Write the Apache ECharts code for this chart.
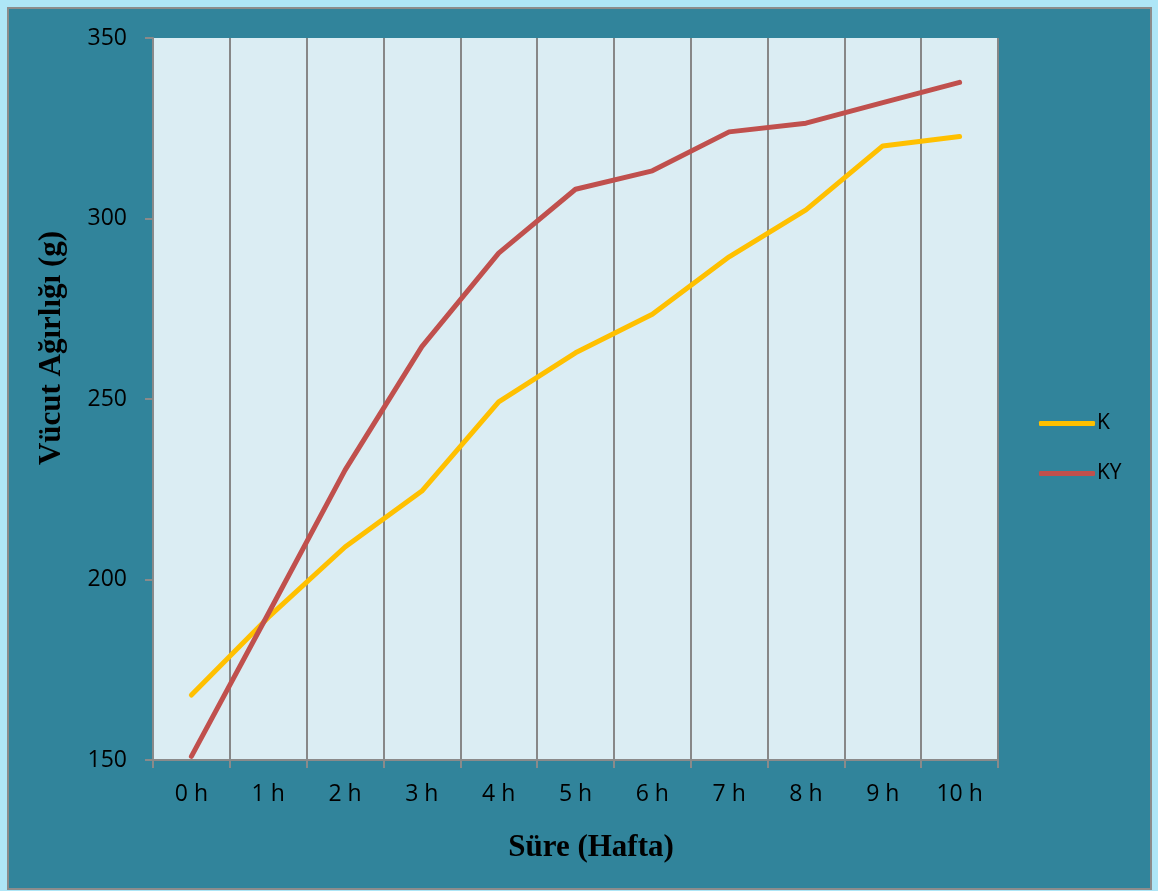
<!DOCTYPE html>
<html>
<head>
<meta charset="utf-8">
<script src="https://cdn.jsdelivr.net/npm/echarts@6/dist/echarts.min.js"></script>
<style>
  html, body { margin: 0; padding: 0; background: #AEE6F7; }
  #chart { width: 1158px; height: 891px; }
</style>
</head>
<body>
<div id="chart"></div>
<script>
// Weekly body weight (g) of the two groups
const weeks = ['0 h', '1 h', '2 h', '3 h', '4 h', '5 h', '6 h', '7 h', '8 h', '9 h', '10 h'];
const seriesK = [168, 189.5, 209, 224.5, 249.2, 262.8, 273.5, 289.4, 302.4, 320.1, 322.7];
const seriesKY = [151, 190.5, 230.3, 264.5, 290.4, 308.1, 313.2, 324.0, 326.4, 332.1, 337.7];
const yMin = 150, yMax = 350, yStep = 50;

const labelFont = '"Open Sans", sans-serif';
const titleFont = '"Liberation Serif", "Times New Roman", serif';

const chart = echarts.init(document.getElementById('chart'), null, { renderer: 'canvas' });

chart.setOption({
  backgroundColor: 'transparent',
  animation: false,
  color: ['#FFC000', '#C0504D'],
  graphic: [
    {
      type: 'rect',
      z: -10,
      shape: { x: 8, y: 8, width: 1143, height: 881 },
      style: { fill: '#31849B', stroke: '#8C8C8C', lineWidth: 2 }
    },
    {
      type: 'text',
      x: 52, y: 348,
      rotation: Math.PI / 2,
      style: {
        text: 'Vücut Ağırlığı (g)',
        font: 'bold 31px ' + titleFont,
        fill: '#000',
        align: 'center',
        verticalAlign: 'middle'
      }
    },
    {
      type: 'text',
      x: 591, y: 848,
      style: {
        text: 'Süre (Hafta)',
        font: 'bold 31px ' + titleFont,
        fill: '#000',
        align: 'center',
        verticalAlign: 'middle'
      }
    }
  ],
  grid: {
    left: 153, right: 160, top: 38, bottom: 131,
    show: true,
    backgroundColor: '#DBEDF3',
    borderWidth: 0
  },
  legend: {
    orient: 'vertical',
    left: 1034,
    top: 408,
    itemWidth: 56,
    itemHeight: 5,
    itemGap: 29,
    icon: 'roundRect',
    textStyle: { fontFamily: labelFont, fontSize: 21, color: '#000', padding: [0, 0, 0, -3] },
    data: ['K', 'KY']
  },
  xAxis: {
    type: 'category',
    data: weeks,
    boundaryGap: true,
    axisLine: { show: true, lineStyle: { color: '#8A8A8A', width: 2 } },
    axisTick: { show: true, length: 8, lineStyle: { color: '#8A8A8A', width: 2 } },
    axisLabel: { fontFamily: labelFont, fontSize: 23, color: '#000', margin: 23 },
    splitLine: { show: true, lineStyle: { color: '#878787', width: 2 } }
  },
  yAxis: {
    type: 'value',
    min: yMin, max: yMax, interval: yStep,
    axisLine: { show: true, lineStyle: { color: '#8A8A8A', width: 2 } },
    axisTick: { show: true, length: 8, lineStyle: { color: '#8A8A8A', width: 2 } },
    axisLabel: { fontFamily: labelFont, fontSize: 23, color: '#000', margin: 26 },
    splitLine: { show: false }
  },
  series: [
    {
      name: 'K', type: 'line', data: seriesK,
      showSymbol: false, symbol: 'none',
      lineStyle: { width: 5, cap: 'round', join: 'round' }
    },
    {
      name: 'KY', type: 'line', data: seriesKY,
      showSymbol: false, symbol: 'none',
      lineStyle: { width: 5, cap: 'round', join: 'round' }
    }
  ]
});
</script>
</body>
</html>
